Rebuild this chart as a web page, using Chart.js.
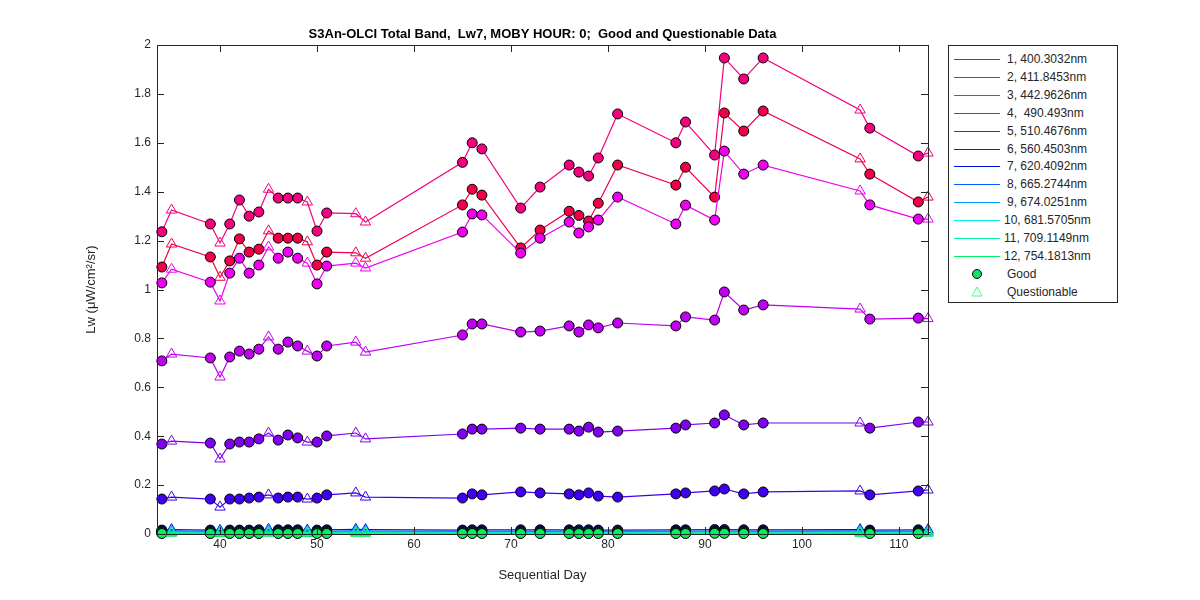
<!DOCTYPE HTML>
<html>
<head>
  <script src="https://cdn.jsdelivr.net/npm/chart.js"></script>
  <style>
    body { margin: 0; background: #fff; }
    #wrap { position: relative; width: 1200px; height: 600px; }
    #legend { position: absolute; left: 948px; top: 45px; width: 170px; height: 258px; border: 1px solid #262626;
      background: #fff; font: 12px "Liberation Sans", Arial, sans-serif; color: #262626; box-sizing: border-box; }
    .row { position: absolute; left: 0; height: 18px; line-height: 18px; white-space: pre; }
    .sw { position: absolute; left: 5px; top: 9px; width: 46px; height: 0; border-top: 1px solid; }
    .lb { position: absolute; left: 58px; top: 0; }
  </style>
</head>
<body>
<div id="wrap">
  <canvas id="lwChart" width="1200" height="600"></canvas>
  <div id="legend"></div>
</div>
<script>
  // sequential days and quality flag (Q = questionable)
  var days = [34,35,39,40,41,42,43,44,45,46,47,48,49,50,51,54,55,65,66,67,71,73,76,77,78,79,81,87,88,91,92,94,96,106,107,112,113];
  var qualityFlags = ['G','Q','G','Q','G','G','G','G','Q','G','G','G','Q','G','G','Q','Q','G','G','G','G','G','G','G','G','G','G','G','G','G','G','G','G','Q','G','G','Q'];

  var bandNames = ['1, 400.3032nm','2, 411.8453nm','3, 442.9626nm','4,  490.493nm','5, 510.4676nm','6, 560.4503nm',
    '7, 620.4092nm','8, 665.2744nm','9, 674.0251nm','10, 681.5705nm','11, 709.1149nm','12, 754.1813nm'];
  var bandColors = ['#f00046','#f5007f','#f000f0','#c000f0','#8000f0','#4000f0','#0010e0','#0060ff','#00a0ff','#00f0f0','#00f0a0','#00f060'];

  var band1 = [1.092,1.186,1.133,1.05,1.117,1.207,1.153,1.165,1.24,1.21,1.21,1.21,1.195,1.10,1.153,1.15,1.128,1.346,1.41,1.386,1.17,1.243,1.32,1.303,1.28,1.353,1.509,1.427,1.50,1.378,1.722,1.648,1.73,1.534,1.472,1.358,1.378];
  var band2 = [1.236,1.325,1.268,1.19,1.268,1.366,1.30,1.317,1.41,1.374,1.374,1.374,1.358,1.239,1.313,1.31,1.276,1.52,1.60,1.575,1.333,1.419,1.509,1.48,1.464,1.538,1.718,1.60,1.685,1.55,1.947,1.861,1.947,1.734,1.66,1.546,1.558];
  var band3 = [1.027,1.083,1.03,0.953,1.067,1.128,1.067,1.10,1.174,1.128,1.153,1.128,1.108,1.023,1.096,1.108,1.088,1.235,1.309,1.305,1.149,1.21,1.276,1.231,1.256,1.284,1.378,1.268,1.345,1.284,1.566,1.472,1.509,1.403,1.346,1.288,1.288];
  var band4 = [0.708,0.736,0.72,0.642,0.724,0.748,0.736,0.756,0.806,0.756,0.785,0.769,0.748,0.728,0.769,0.785,0.744,0.814,0.859,0.859,0.826,0.830,0.851,0.826,0.855,0.843,0.863,0.851,0.888,0.875,0.99,0.916,0.937,0.92,0.879,0.883,0.881];
  var band5 = [0.368,0.38,0.372,0.307,0.368,0.376,0.376,0.389,0.413,0.384,0.405,0.393,0.376,0.376,0.401,0.413,0.389,0.409,0.429,0.429,0.433,0.429,0.429,0.421,0.437,0.417,0.421,0.433,0.446,0.454,0.487,0.446,0.454,0.454,0.433,0.458,0.458];
  var band6 = [0.143,0.151,0.143,0.110,0.143,0.143,0.147,0.151,0.16,0.147,0.151,0.151,0.143,0.147,0.16,0.168,0.151,0.147,0.164,0.16,0.172,0.168,0.164,0.16,0.168,0.155,0.151,0.164,0.168,0.176,0.184,0.164,0.172,0.176,0.16,0.176,0.18];
  var band7 = [0.016,0.018,0.016,0.015,0.016,0.016,0.016,0.017,0.019,0.017,0.017,0.017,0.016,0.016,0.017,0.019,0.018,0.016,0.017,0.017,0.017,0.017,0.017,0.017,0.017,0.016,0.016,0.017,0.017,0.018,0.018,0.017,0.017,0.018,0.016,0.017,0.018];
  var band8 = [0.010,0.012,0.010,0.009,0.010,0.010,0.010,0.011,0.013,0.011,0.011,0.011,0.010,0.010,0.011,0.013,0.012,0.010,0.011,0.011,0.011,0.011,0.011,0.011,0.011,0.010,0.010,0.011,0.011,0.012,0.012,0.011,0.011,0.012,0.010,0.011,0.012];
  var band9 = [0.009,0.010,0.009,0.008,0.009,0.009,0.009,0.009,0.011,0.009,0.009,0.009,0.009,0.009,0.009,0.011,0.010,0.009,0.009,0.009,0.009,0.009,0.009,0.009,0.009,0.009,0.009,0.009,0.009,0.010,0.010,0.009,0.009,0.010,0.009,0.009,0.010];
  var band10 = [0.006,0.007,0.006,0.005,0.006,0.006,0.006,0.006,0.007,0.006,0.006,0.006,0.006,0.006,0.006,0.007,0.007,0.006,0.006,0.006,0.006,0.006,0.006,0.006,0.006,0.006,0.006,0.006,0.006,0.007,0.007,0.006,0.006,0.007,0.006,0.006,0.007];
  var band11 = [0.004,0.005,0.004,0.004,0.004,0.004,0.004,0.004,0.005,0.004,0.004,0.004,0.004,0.004,0.004,0.005,0.005,0.004,0.004,0.004,0.004,0.004,0.004,0.004,0.004,0.004,0.004,0.004,0.004,0.005,0.005,0.004,0.004,0.005,0.004,0.004,0.005];
  var band12 = [0.002,0.003,0.002,0.002,0.002,0.002,0.002,0.002,0.003,0.002,0.002,0.002,0.002,0.002,0.002,0.003,0.003,0.002,0.002,0.002,0.002,0.002,0.002,0.002,0.002,0.002,0.002,0.002,0.002,0.003,0.003,0.002,0.002,0.003,0.002,0.002,0.003];
  var bandValues = [band1,band2,band3,band4,band5,band6,band7,band8,band9,band10,band11,band12];

  var xTicks = [40,50,60,70,80,90,100,110];
  var yTicks = [0,0.2,0.4,0.6,0.8,1,1.2,1.4,1.6,1.8,2];

  var FONT = '"Liberation Sans", Arial, sans-serif';
  var INK = '#262626';

  var datasets = bandValues.map(function (vals, i) {
    var col = bandColors[i];
    return {
      label: bandNames[i],
      data: vals.map(function (v, j) { return { x: days[j], y: v }; }),
      borderColor: col,
      borderWidth: 1.2,
      order: 12 - i,
      clip: false,
      pointStyle: qualityFlags.map(function (q) { return q === 'Q' ? 'triangle' : 'circle'; }),
      pointRadius: qualityFlags.map(function (q) { return q === 'Q' ? 6 : 5; }),
      pointBackgroundColor: qualityFlags.map(function (q) { return q === 'Q' ? 'rgba(255,255,255,0)' : col; }),
      pointBorderColor: qualityFlags.map(function (q) { return q === 'Q' ? col : '#000'; }),
      pointBorderWidth: 1
    };
  });

  // MATLAB-like frame, inward ticks and texts
  var framePlugin = {
    id: 'frame',
    afterDraw: function (chart) {
      var ctx = chart.ctx, a = chart.chartArea, xs = chart.scales.x, ys = chart.scales.y;
      ctx.save();
      ctx.strokeStyle = INK; ctx.lineWidth = 1;
      ctx.strokeRect(a.left + 0.5, a.top + 0.5, a.right - a.left, a.bottom - a.top);
      ctx.beginPath();
      xTicks.forEach(function (t) {
        var px = Math.round(xs.getPixelForValue(t)) + 0.5;
        ctx.moveTo(px, a.bottom); ctx.lineTo(px, a.bottom - 7);
        ctx.moveTo(px, a.top); ctx.lineTo(px, a.top + 7);
      });
      yTicks.forEach(function (t) {
        var py = Math.round(ys.getPixelForValue(t)) + 0.5;
        ctx.moveTo(a.left, py); ctx.lineTo(a.left + 7, py);
        ctx.moveTo(a.right, py); ctx.lineTo(a.right - 7, py);
      });
      ctx.stroke();
      ctx.fillStyle = INK;
      ctx.font = '12px ' + FONT;
      ctx.textAlign = 'center'; ctx.textBaseline = 'top';
      xTicks.forEach(function (t) { ctx.fillText(String(t), xs.getPixelForValue(t), a.bottom + 5); });
      ctx.textAlign = 'right'; ctx.textBaseline = 'middle';
      yTicks.forEach(function (t) { ctx.fillText(String(t), a.left - 6, ys.getPixelForValue(t)); });
      ctx.textAlign = 'center';
      ctx.font = '13px ' + FONT;
      ctx.fillText('Sequential Day', (a.left + a.right) / 2, 575);
      ctx.save();
      ctx.translate(91, (a.top + a.bottom) / 2);
      ctx.rotate(-Math.PI / 2);
      ctx.fillText('Lw (\u03bcW/cm\u00b2/sr)', 0, 0);
      ctx.restore();
      ctx.font = 'bold 13px ' + FONT;
      ctx.fillStyle = '#000';
      ctx.fillText('S3An-OLCI Total Band,  Lw7, MOBY HOUR: 0;  Good and Questionable Data', (a.left + a.right) / 2, 34);
      ctx.restore();
    }
  };

  new Chart(document.getElementById('lwChart').getContext('2d'), {
    type: 'line',
    data: { datasets: datasets },
    options: {
      responsive: false,
      animation: false,
      layout: { padding: { left: 0, right: 272, top: 45, bottom: 0 } },
      plugins: { legend: { display: false }, tooltip: { enabled: false } },
      scales: {
        x: {
          type: 'linear', min: 33.5, max: 113,
          grid: { display: false }, border: { display: false },
          ticks: { display: false },
          afterFit: function (s) { s.height = 66; }
        },
        y: {
          min: 0, max: 2,
          grid: { display: false }, border: { display: false },
          ticks: { display: false },
          afterFit: function (s) { s.width = 157; }
        }
      }
    },
    plugins: [framePlugin]
  });

  // legend box
  var leg = document.getElementById('legend');
  var html = '';
  bandNames.forEach(function (n, i) {
    html += '<div class="row" style="top:' + (4 + i * 17.9) + 'px;width:168px"><div class="sw" style="border-top-color:' + bandColors[i] + '"></div><span class="lb"' + (i >= 9 ? ' style="left:55px"' : '') + '>' + n + '</span></div>';
  });
  html += '<div class="row" style="top:' + (4 + 12 * 17.9) + 'px;width:168px"><svg width="60" height="18" style="position:absolute;left:0"><circle cx="28" cy="9" r="4.5" fill="#10e070" stroke="#000" stroke-width="1"/></svg><span class="lb">Good</span></div>';
  html += '<div class="row" style="top:' + (4 + 13 * 17.9) + 'px;width:168px"><svg width="60" height="18" style="position:absolute;left:0"><polygon points="28,4 33,13 23,13" fill="none" stroke="#40ff80" stroke-width="1"/></svg><span class="lb">Questionable</span></div>';
  leg.innerHTML = html;
</script>
</body>
</html>
